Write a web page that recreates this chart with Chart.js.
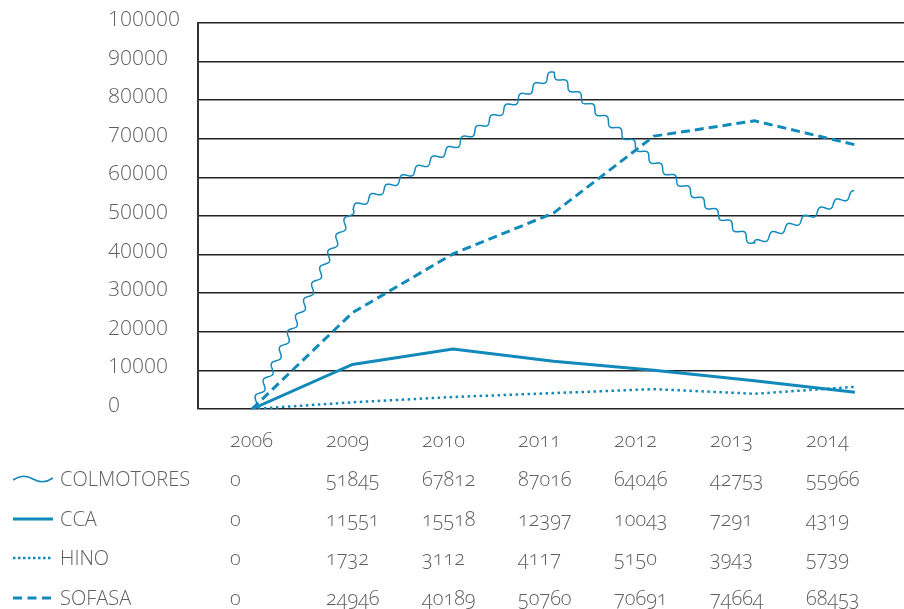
<!DOCTYPE html>
<html>
<head>
<meta charset="utf-8">
<script src="https://cdn.jsdelivr.net/npm/chart.js@4"></script>
<style>
  html, body { margin: 0; padding: 0; background: #fff; }
  #wrap { position: relative; width: 904px; height: 609px; overflow: hidden; }
  #chart { position: absolute; left: 0; top: 0; }
  .tabla { position: absolute; left: 0; top: 0; width: 904px; font-family: 'Open Sans', sans-serif; font-weight: 300; font-size: 20px; color: #606060; font-variant-numeric: oldstyle-nums; }
  .fila { position: absolute; left: 0; height: 30px; line-height: 30px; width: 904px; }
  .fila span { position: absolute; top: 0; white-space: nowrap; }
  .fila svg { position: absolute; left: 13px; top: 10px; }
</style>
</head>
<body>
<div id="wrap">
  <canvas id="chart" width="904" height="609"></canvas>
  <div class="tabla" id="tabla"></div>
</div>
<script>
// --- Dades ---
const anys = ['2006', '2009', '2010', '2011', '2012', '2013', '2014'];
const colmotores = [0, 51845, 67812, 87016, 64046, 42753, 55966];
const cca = [0, 11551, 15518, 12397, 10043, 7291, 4319];
const hino = [0, 1732, 3112, 4117, 5150, 3943, 5739];
const sofasa = [0, 24946, 40189, 50760, 70691, 74664, 68453];
const yTicks = [0, 10000, 20000, 30000, 40000, 50000, 60000, 70000, 80000, 90000, 100000];

const BLAU = '#1189bb';
const GRIS = '#606060';
const FONT = "'Open Sans', sans-serif";

const punts = vals => vals.map((v, i) => ({ x: i, y: v }));

// línia ondulada per a COLMOTORES (segueix els punts calculats per l'escala)
const onaPlugin = {
  id: 'ona',
  beforeDatasetDraw(chart, args) {
    const ds = chart.data.datasets[args.index];
    if (!ds.ona) return;
    const pts = args.meta.data.map(p => ({ x: p.x, y: p.y }));
    const ctx = chart.ctx;
    const A = 3, L = 18;
    ctx.save();
    ctx.strokeStyle = BLAU;
    ctx.lineWidth = 1.5;
    ctx.lineJoin = 'round';
    ctx.lineCap = 'round';
    ctx.beginPath();
    let s = 0, first = true;
    for (let i = 0; i < pts.length - 1; i++) {
      const a = pts[i], b = pts[i + 1];
      const dx = b.x - a.x, dy = b.y - a.y;
      const len = Math.hypot(dx, dy);
      const nx = -dy / len, ny = dx / len;
      for (let t = 0; t <= len; t += 0.5) {
        const off = A * Math.sin(2 * Math.PI * (s + t) / L);
        const x = a.x + dx * t / len + nx * off;
        const y = a.y + dy * t / len + ny * off;
        if (first) { ctx.moveTo(x, y); first = false; } else ctx.lineTo(x, y);
      }
      s += len;
    }
    ctx.stroke();
    ctx.restore();
    return false;
  }
};

new Chart(document.getElementById('chart'), {
  type: 'line',
  data: {
    datasets: [
      { label: 'COLMOTORES', data: punts(colmotores), borderColor: BLAU, ona: true },
      { label: 'CCA', data: punts(cca), borderColor: BLAU, borderWidth: 3 },
      { label: 'HINO', data: punts(hino), borderColor: BLAU, borderWidth: 2.5, borderDash: [2.5, 3.5] },
      { label: 'SOFASA', data: punts(sofasa), borderColor: BLAU, borderWidth: 3, borderDash: [9, 5] }
    ]
  },
  options: {
    responsive: false,
    animation: false,
    events: [],
    elements: { point: { radius: 0 }, line: { tension: 0, borderCapStyle: 'butt' } },
    layout: { padding: { left: 108, top: 23, right: 0, bottom: 200 } },
    plugins: { legend: { display: false }, tooltip: { enabled: false } },
    scales: {
      x: { type: 'linear', min: -0.537, max: 6.488, display: false },
      y: {
        min: 0, max: 100000,
        afterBuildTicks: axis => { axis.ticks = yTicks.map(v => ({ value: v })); },
        afterFit: axis => { axis.width = 90; },
        grid: { color: '#222', lineWidth: 1.5, drawTicks: false },
        border: { display: true, color: '#333', width: 2 },
        ticks: {
          crossAlign: 'far',
          labelOffset: -3,
          color: GRIS,
          font: { family: FONT, size: 21, weight: 300 },
          callback: v => String(v)
        }
      }
    }
  },
  plugins: [onaPlugin]
});

// --- Taula de dades ---
const colX = [230, 326, 422, 518, 614, 710, 806];
const files = [
  { nom: 'COLMOTORES', vals: colmotores, tipus: 'ona' },
  { nom: 'CCA', vals: cca, tipus: 'solid' },
  { nom: 'HINO', vals: hino, tipus: 'punts' },
  { nom: 'SOFASA', vals: sofasa, tipus: 'guions' }
];
const simbols = {
  ona: '<path d="M0,6 C7,1 13,1 20,5 S33,9 40,4" fill="none" stroke="' + BLAU + '" stroke-width="1.6"/>',
  solid: '<line x1="0" y1="5" x2="40" y2="5" stroke="' + BLAU + '" stroke-width="3"/>',
  punts: '<line x1="0" y1="5" x2="40" y2="5" stroke="' + BLAU + '" stroke-width="2.5" stroke-dasharray="2.5 2.5"/>',
  guions: '<line x1="0" y1="5" x2="40" y2="5" stroke="' + BLAU + '" stroke-width="3" stroke-dasharray="9 5.5"/>'
};
const tabla = document.getElementById('tabla');
let html = '<div class="fila" style="top:425px">' + anys.map((a, i) => '<span style="left:' + colX[i] + 'px">' + a + '</span>').join('') + '</div>';
files.forEach((f, r) => {
  const top = 464 + r * 39.5;
  html += '<div class="fila" style="top:' + top + 'px"><svg width="40" height="10">' + simbols[f.tipus] + '</svg>' +
    '<span style="left:60px">' + f.nom + '</span>' +
    f.vals.map((v, i) => '<span style="left:' + colX[i] + 'px">' + v + '</span>').join('') + '</div>';
});
tabla.innerHTML = html;
</script>
</body>
</html>
